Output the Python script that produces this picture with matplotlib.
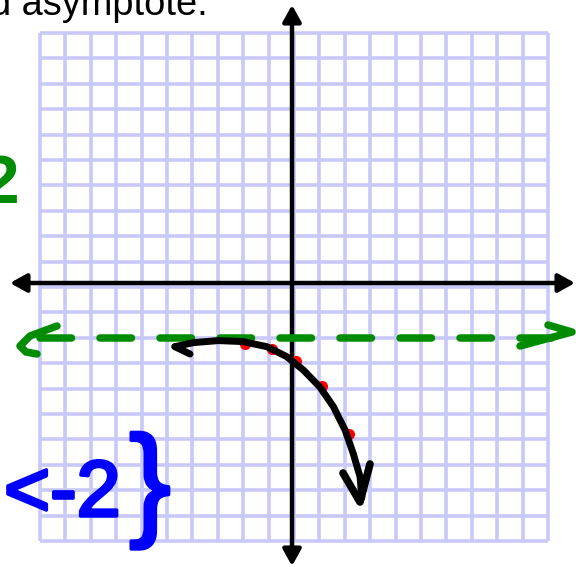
import matplotlib
matplotlib.use("Agg")
import matplotlib.pyplot as plt
import matplotlib.patheffects as pe
import numpy as np

# ---- data (grid units) ----
grid_ticks = list(range(-10, 11))
asymptote_y = -2
# sketched curve
curve_x = [-4.69, -3.96, -2.98, -2.00, -1.07, -0.29, 0.37, 1.02, 1.55, 2.01, 2.33, 2.60, 2.67]
curve_y = [-2.35, -2.19, -2.11, -2.15, -2.35, -2.74, -3.27, -3.94, -4.71, -5.63, -6.55, -7.47, -8.30]
# plotted red points
pts_x = [-1.93, -0.88, 0.06, 1.12, 2.16]
pts_y = [-2.26, -2.46, -2.92, -3.90, -5.80]
top_text = "d asymptote."
range_text = "<-2"
brace_text = "}"
green_text = "2"

W, H = 576, 567
CELL, CX, CY = 25.4, 294, 287

fig = plt.figure(figsize=(W / 100, H / 100), dpi=100)
ax = fig.add_axes([0, 0, 1, 1])
ax.axis("off")
ax.set_xlim(-CX / CELL, (W - CX) / CELL)
ax.set_ylim(-(H - CY) / CELL, CY / CELL)

def ux(px):
    return (px - CX) / CELL

def uy(py):
    return (CY - py) / CELL

grid_col = "#c8c8fb"
ax.vlines(grid_ticks, grid_ticks[0], grid_ticks[-1], color=grid_col, lw=2.6, zorder=1)
ax.hlines(grid_ticks, grid_ticks[0], grid_ticks[-1], color=grid_col, lw=2.6, zorder=1)

# axes with arrows
arrow_kw = dict(arrowstyle="<|-|>,head_length=0.45,head_width=0.25", color="black",
                lw=3.2, shrinkA=0, shrinkB=0, mutation_scale=22)
ax.annotate("", xy=(ux(575), uy(283)), xytext=(ux(10), uy(283)), arrowprops=arrow_kw, zorder=3)
ax.annotate("", xy=(ux(292), uy(5)), xytext=(ux(292), uy(566)), arrowprops=arrow_kw, zorder=3)

# green dashed asymptote
green = "#008c00"
ax.plot([ux(40), ux(562)], [asymptote_y, asymptote_y], color=green, lw=5.4,
        dashes=(4.2, 3.8), dash_capstyle="round", zorder=4)
ax.plot([ux(57), ux(30), ux(20), ux(26), ux(37)], [uy(326), uy(336), uy(346), uy(352), uy(354)],
        color=green, lw=5.4, solid_capstyle="round", solid_joinstyle="round", zorder=4)
ax.plot([ux(548), ux(572), ux(520)], [uy(325), uy(332), uy(346)], color=green, lw=5.4,
        solid_capstyle="round", solid_joinstyle="round", zorder=4)

# red points
ax.plot(pts_x, pts_y, "o", color="red", ms=8, mec="none", zorder=5)

# black sketched curve with arrows
ax.plot(curve_x, curve_y, color="black", lw=5, solid_capstyle="round",
        solid_joinstyle="round", zorder=6)
ax.plot([curve_x[0], ux(190)], [curve_y[0], uy(354)], color="black", lw=5,
        solid_capstyle="round", zorder=6)
ax.plot([ux(343), ux(360), ux(370)], [uy(473), uy(502), uy(464)], color="black", lw=5.5,
        solid_capstyle="round", solid_joinstyle="round", zorder=6)

# texts
T = ax.transAxes
thick = [pe.withStroke(linewidth=2.5, foreground="#0000ff")]
ax.text(208 / W, 1 - 15 / H, top_text, transform=T, ha="right", va="baseline",
        fontsize=27.4, family="Liberation Sans", color="black", zorder=7)
ax.text(19 / W, 1 - 203 / H, green_text, transform=T, ha="right", va="baseline",
        fontsize=50, family="Liberation Sans", color=green, fontweight="bold", zorder=7)
ax.text(4 / W, 1 - 516 / H, range_text, transform=T, ha="left", va="baseline",
        fontsize=57, family="Liberation Sans", color="#0000ff", zorder=7, path_effects=thick)
ax.text(150 / W, 1 - 491 / H, brace_text, transform=T, ha="center", va="center",
        fontsize=90, family="Liberation Sans", color="#0000ff", zorder=7, path_effects=thick)

fig.savefig("out.png", dpi=100)
